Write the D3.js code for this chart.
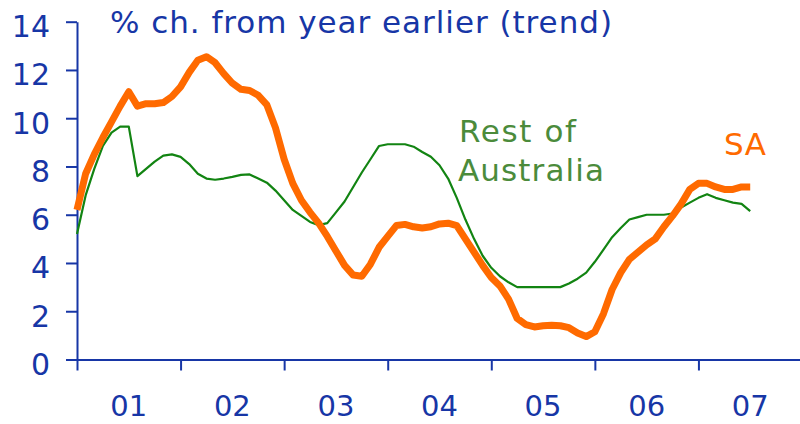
<!DOCTYPE html>
<html><head><meta charset="utf-8">
<script src="https://cdn.jsdelivr.net/npm/d3@7"></script>
<style>html,body{margin:0;padding:0;background:#fff;}svg{display:block;}</style>
</head><body>
<svg id="c" width="800" height="424"></svg>
<script>
const yearLabels = ["01","02","03","04","05","06","07"];
const yTicks = [0,2,4,6,8,10,12,14];
// monthly, starting Jan 2001
const saValues = [6.2,7.7,8.5,9.2,9.85,10.5,11.1,10.5,10.6,10.6,10.65,10.9,
  11.3,11.9,12.4,12.55,12.3,11.85,11.45,11.2,11.15,10.95,10.55,9.6,
  8.3,7.3,6.6,6.1,5.65,5.1,4.5,3.9,3.5,3.45,3.95,4.65,
  5.1,5.55,5.6,5.5,5.45,5.5,5.62,5.65,5.55,5.0,4.45,3.9,
  3.4,3.05,2.5,1.7,1.45,1.35,1.4,1.42,1.4,1.32,1.1,0.95,
  1.15,1.9,2.9,3.6,4.15,4.45,4.75,5.0,5.5,5.95,6.45,7.05,
  7.3,7.3,7.15,7.05,7.05,7.15,7.15];
const restValues = [5.2,6.8,7.9,8.85,9.4,9.65,9.65,7.6,7.9,8.2,8.45,8.5,
  8.4,8.1,7.7,7.5,7.45,7.5,7.57,7.65,7.67,7.5,7.33,7.0,
  6.6,6.2,5.95,5.7,5.57,5.65,6.1,6.55,7.15,7.75,8.3,8.85,
  8.92,8.92,8.92,8.82,8.6,8.4,8.05,7.5,6.7,5.8,5.0,4.3,
  3.8,3.45,3.2,3.0,3.0,3.0,3.0,3.0,3.0,3.15,3.35,3.6,
  4.05,4.55,5.07,5.45,5.8,5.9,6.0,6.0,6.0,6.05,6.3,6.5,
  6.7,6.85,6.7,6.6,6.5,6.45,6.15];

const svg = d3.select("#c");
const blue = "#1736a6";
const green = "#4b8b3b";
const orange = "#ff6a00";
const font = "'DejaVu Sans', Verdana, sans-serif";
const x = d3.scaleLinear().domain([0,84]).range([77,802]);
const y = d3.scaleLinear().domain([0,14]).range([359.5,21.7]);

// y axis
const yAxis = d3.axisLeft(y).tickValues(yTicks).tickSize(11).tickPadding(16).tickSizeOuter(0);
const gy = svg.append("g").attr("transform","translate(77,0)").call(yAxis);
gy.select(".domain").attr("stroke",blue).attr("stroke-width",2);
gy.selectAll(".tick line").attr("stroke",blue).attr("stroke-width",2);
gy.selectAll(".tick text").attr("fill",blue).attr("font-family",font).attr("font-size",30).attr("dy","0.5em");

// x axis
const xAxis = d3.axisBottom(x).tickValues([0,12,24,36,48,60,72]).tickSize(11).tickFormat("").tickSizeOuter(0);
const gx = svg.append("g").attr("transform","translate(0,359.5)").call(xAxis);
gx.select(".domain").attr("stroke",blue).attr("stroke-width",2);
gx.selectAll(".tick line").attr("stroke",blue).attr("stroke-width",2);

svg.append("g").selectAll("text").data(yearLabels).join("text")
  .attr("x",(d,i)=>x(i*12+6)).attr("y",416)
  .attr("text-anchor","middle").attr("fill",blue).attr("font-family",font).attr("font-size",29)
  .text(d=>d);

const line = d3.line().x((d,i)=>x(i)).y(d=>y(d));
svg.append("path").datum(restValues).attr("d",line).attr("fill","none")
  .attr("stroke","#128412").attr("stroke-width",2.2).attr("stroke-linejoin","round");
svg.append("path").datum(saValues).attr("d",line).attr("fill","none")
  .attr("stroke",orange).attr("stroke-width",7).attr("stroke-linejoin","round");

function label(txt, x0, y0, color, len){
  svg.append("text").attr("x",x0).attr("y",y0).attr("fill",color).attr("font-family",font)
    .attr("font-size",31).attr("textLength",len).attr("lengthAdjust","spacing").text(txt);
}
label("% ch. from year earlier (trend)", 110, 33, blue, 502);
label("Rest of", 459, 142, green, 117);
label("Australia", 458, 181, green, 146);
label("SA", 724, 155, orange, 42);
</script>
</body></html>
